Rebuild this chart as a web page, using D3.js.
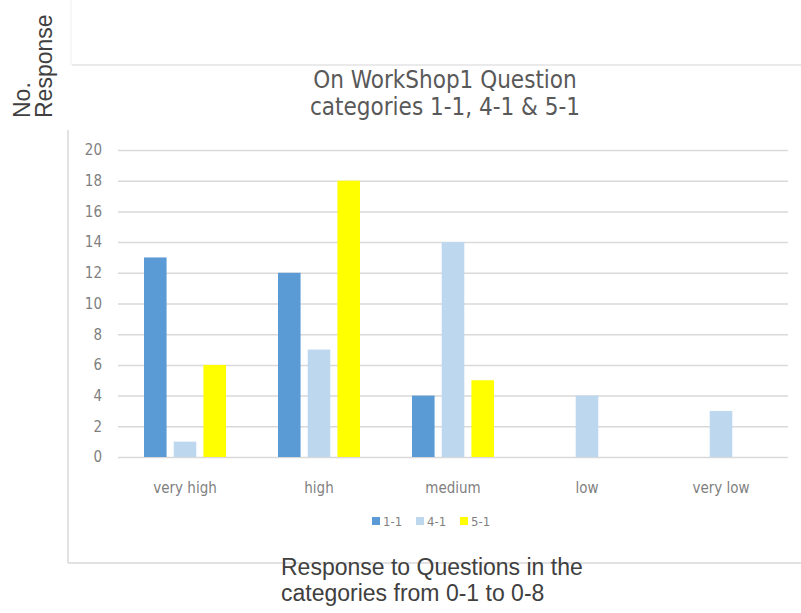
<!DOCTYPE html>
<html>
<head>
<meta charset="utf-8">
<script src="https://cdn.jsdelivr.net/npm/d3@7"></script>
<style>
  body { margin: 0; background: #fff; }
  svg { display: block; }
</style>
</head>
<body>
<svg id="chart" width="801" height="613"></svg>
<script>
var categories = ["very high", "high", "medium", "low", "very low"];
var seriesNames = ["1-1", "4-1", "5-1"];
var values11 = [13, 12, 4, 0, 0];
var values41 = [1, 7, 14, 4, 3];
var values51 = [6, 18, 5, 0, 0];
var yTicks = [0, 2, 4, 6, 8, 10, 12, 14, 16, 18, 20];
var colors = ["#5b9bd5", "#bdd7ee", "#ffff00"];

var svg = d3.select("#chart");
var margin = { top: 150, right: 13, bottom: 156, left: 118 };
var width = 801 - margin.left - margin.right;
var height = 613 - margin.top - margin.bottom;

var narrow = "'Liberation Sans Narrow', 'DejaVu Sans Condensed', 'Roboto Condensed', sans-serif";

// faint frame lines
svg.append("line").attr("x1", 68).attr("x2", 68).attr("y1", 130).attr("y2", 563)
  .attr("stroke", "#d9d9d9").attr("stroke-width", 1.5);
svg.append("line").attr("x1", 68).attr("x2", 801).attr("y1", 563).attr("y2", 563)
  .attr("stroke", "#d9d9d9").attr("stroke-width", 1.5);
svg.append("line").attr("x1", 72).attr("x2", 801).attr("y1", 65).attr("y2", 65)
  .attr("stroke", "#e3e3e3").attr("stroke-width", 1.5);
svg.append("line").attr("x1", 71).attr("x2", 71).attr("y1", 0).attr("y2", 65)
  .attr("stroke", "#efefef").attr("stroke-width", 1);

var g = svg.append("g").attr("transform", "translate(" + margin.left + "," + margin.top + ")");

var x0 = d3.scaleBand().domain(categories).range([0, width]).paddingInner(0).paddingOuter(0);
var x1 = d3.scaleBand().domain(seriesNames).range([0, 82]).paddingInner(0.24);
var y = d3.scaleLinear().domain([0, 20]).range([height, 0]);

// gridlines
g.append("g")
  .call(d3.axisLeft(y).tickValues(yTicks).tickSize(-width).tickFormat(""))
  .call(function(s) {
    s.select(".domain").remove();
    s.selectAll("line").attr("stroke", "#d9d9d9").attr("stroke-width", 1.5);
  });

// y tick labels
g.append("g")
  .call(d3.axisLeft(y).tickValues(yTicks).tickSize(0).tickPadding(16))
  .call(function(s) {
    s.select(".domain").remove();
    s.selectAll("text").attr("fill", "#7f7f7f").style("font-family", narrow).style("font-size", "15px");
  });

var series = seriesNames.map(function(name, i) {
  return { name: name, color: colors[i], values: [values11, values41, values51][i] };
});

var groups = g.selectAll(".grp").data(categories).enter().append("g")
  .attr("transform", function(d) { return "translate(" + (x0(d) + (x0.bandwidth() - 82) / 2) + ",0)"; });

groups.selectAll("rect")
  .data(function(d, ci) { return series.map(function(s) { return { name: s.name, color: s.color, v: s.values[ci] }; }); })
  .enter().append("rect")
  .attr("x", function(d) { return x1(d.name); })
  .attr("width", x1.bandwidth())
  .attr("y", function(d) { return y(d.v); })
  .attr("height", function(d) { return height - y(d.v); })
  .attr("fill", function(d) { return d.color; });

// x axis labels
g.append("g").attr("transform", "translate(0," + height + ")")
  .call(d3.axisBottom(x0).tickSize(0).tickPadding(25))
  .call(function(s) {
    s.select(".domain").remove();
    s.selectAll("text").attr("fill", "#7f7f7f").style("font-family", narrow).style("font-size", "15px");
  });

// legend
var legend = svg.append("g").attr("transform", "translate(372,522)");
var lx = [0, 44, 88];
seriesNames.forEach(function(name, i) {
  legend.append("rect").attr("x", lx[i]).attr("y", -5).attr("width", 8).attr("height", 8).attr("fill", colors[i]);
  legend.append("text").attr("x", lx[i] + 11).attr("y", 4).text(name)
    .attr("fill", "#7f7f7f").style("font-family", narrow).style("font-size", "13px");
});

// chart title
var title = svg.append("text").attr("text-anchor", "middle")
  .attr("fill", "#595959").style("font-family", narrow).style("font-size", "24px");
title.append("tspan").attr("x", 445).attr("y", 88).text("On WorkShop1 Question");
title.append("tspan").attr("x", 445).attr("y", 115).text("categories 1-1, 4-1 & 5-1");

// y axis title
var yt = svg.append("text").attr("transform", "rotate(-90)")
  .attr("fill", "#404040").style("font-family", "'Liberation Sans', Arial, sans-serif").style("font-size", "23px");
yt.append("tspan").attr("x", -118).attr("y", 30).text("No.");
yt.append("tspan").attr("x", -118).attr("y", 52).text("Response");

// x axis title
var xt = svg.append("text").attr("fill", "#404040")
  .style("font-family", "'Liberation Sans', Arial, sans-serif").style("font-size", "23px");
xt.append("tspan").attr("x", 281).attr("y", 575).text("Response to Questions in the");
xt.append("tspan").attr("x", 281).attr("y", 601).text("categories from 0-1 to 0-8");
</script>
</body>
</html>
